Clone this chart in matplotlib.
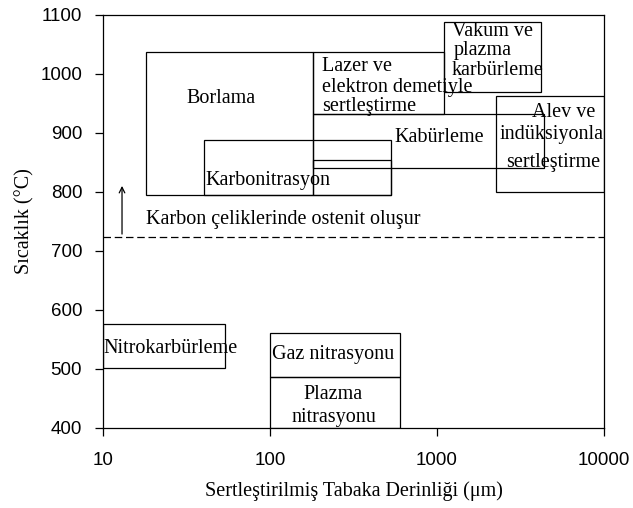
import matplotlib.pyplot as plt
from matplotlib.patches import Rectangle

plt.rcParams['font.family'] = 'Liberation Serif'

# process regions: (x0, x1, y0, y1) in µm and °C
borlama = (18, 180, 795, 1037)
karbonitrasyon = (40, 530, 795, 888)
ara_kutu = (180, 530, 795, 854)
kaburleme = (180, 4400, 840, 932)
lazer = (180, 1100, 932, 1037)
vakum = (1100, 4200, 970, 1088)
alev = (2250, 10000, 800, 962)
nitrokarb = (10, 54, 502, 576)
gaz_nit = (100, 600, 487, 561)
plazma_nit = (100, 600, 400, 487)

kutular = [borlama, karbonitrasyon, ara_kutu, kaburleme, lazer, vakum,
           alev, nitrokarb, gaz_nit, plazma_nit]

ostenit_sicaklik = 724
ok_x = 13
ok_ust = 815

yticks = [400, 500, 600, 700, 800, 900, 1000, 1100]
xticks = [10, 100, 1000, 10000]

fig = plt.figure(figsize=(6.33, 5.08), dpi=100)
ax = fig.add_axes([0.1627, 0.1575, 0.7915, 0.813])

for x0, x1, y0, y1 in kutular:
    ax.add_patch(Rectangle((x0, y0), x1 - x0, y1 - y0, fill=False,
                           edgecolor='black', linewidth=0.9))

# ostenit line and arrow
ax.axhline(ostenit_sicaklik, color='black', linestyle=(0, (6, 3)), linewidth=0.9)
ax.annotate('', xy=(ok_x, ok_ust), xytext=(ok_x, ostenit_sicaklik),
            arrowprops=dict(arrowstyle='->', color='black', lw=0.9))

fs = 14.5
ax.text(18, 753, 'Karbon çeliklerinde ostenit oluşur', fontsize=fs, va='center')
ax.text(51, 959, 'Borlama', fontsize=fs, ha='center', va='center')
ax.text(41, 820, 'Karbonitrasyon', fontsize=fs, va='center')
ax.text(204, 1012, 'Lazer ve', fontsize=fs, va='center')
ax.text(204, 977, 'elektron demetiyle', fontsize=fs, va='center')
ax.text(204, 945, 'sertleştirme', fontsize=fs, va='center')
ax.text(1225, 1072, 'Vakum ve', fontsize=fs, va='center')
ax.text(1260, 1040, 'plazma', fontsize=fs, va='center')
ax.text(1225, 1006, 'karbürleme', fontsize=fs, va='center')
ax.text(555, 892, 'Kabürleme', fontsize=fs, va='center')
ax.text(8830, 934, 'Alev ve', fontsize=fs, ha='right', va='center')
ax.text(4850, 897, 'indüksiyonla', fontsize=fs, ha='center', va='center')
ax.text(4960, 850, 'sertleştirme', fontsize=fs, ha='center', va='center')
ax.text(10.1, 534, 'Nitrokarbürleme', fontsize=fs, va='center')
ax.text(240, 525, 'Gaz nitrasyonu', fontsize=fs, ha='center', va='center')
ax.text(240, 457, 'Plazma', fontsize=fs, ha='center', va='center')
ax.text(240, 417, 'nitrasyonu', fontsize=fs, ha='center', va='center')

ax.set_xscale('log')
ax.set_xlim(10, 10000)
ax.set_ylim(400, 1100)
ax.set_xticks(xticks)
ax.set_xticklabels([str(v) for v in xticks], family='Liberation Sans', fontsize=13.5)
ax.set_yticks(yticks)
ax.set_yticklabels([str(v) for v in yticks], family='Liberation Sans', fontsize=13.5)
ax.minorticks_off()
ax.tick_params(direction='out', length=6, width=0.9)
ax.tick_params(axis='x', pad=11)
ax.tick_params(axis='y', pad=9)
for s in ax.spines.values():
    s.set_linewidth(0.9)

ax.set_xlabel('Sertleştirilmiş Tabaka Derinliği (μm)', fontsize=14.5, labelpad=9)
ax.set_ylabel('Sıcaklık (°C)', fontsize=14.5, labelpad=4)

fig.savefig('out.png', dpi=100)
